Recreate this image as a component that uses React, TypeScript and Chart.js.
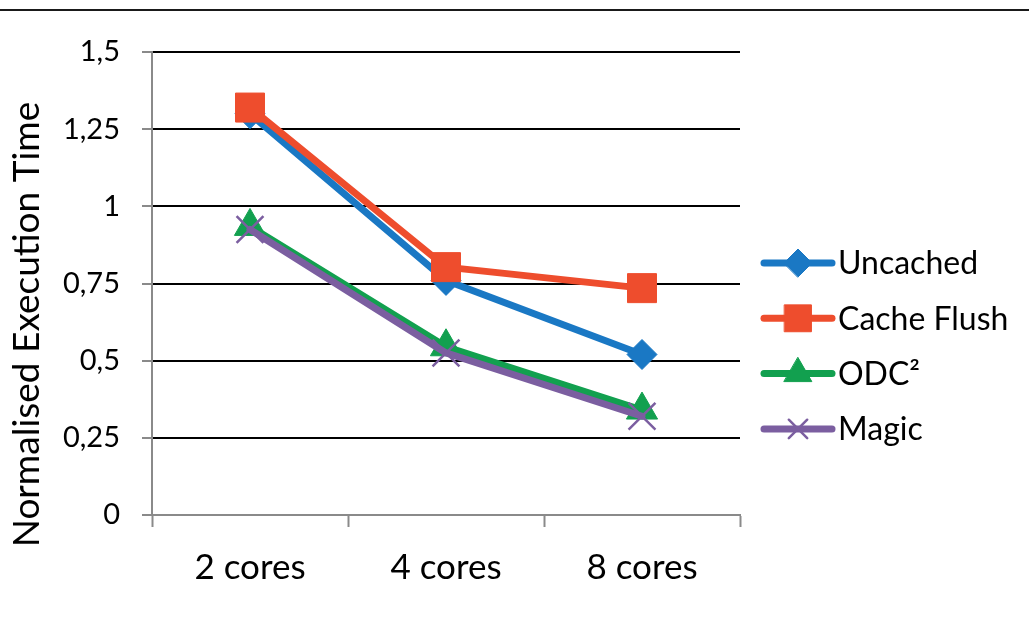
import React, { useEffect, useRef } from 'react';
import { Chart, registerables } from 'chart.js';
import { drawPoint } from 'chart.js/helpers';

Chart.register(...registerables);

const categories = ['2 cores', '4 cores', '8 cores'];
const uncached = [1.3, 0.76, 0.52];
const cacheFlush = [1.32, 0.803, 0.735];
const odc2 = [0.935, 0.545, 0.34];
const magic = [0.925, 0.525, 0.32];
const seriesNames = ['Uncached', 'Cache Flush', 'ODC²', 'Magic'];
const yTicks = [0, 0.25, 0.5, 0.75, 1, 1.25, 1.5];
const yTitle = 'Normalised Execution Time';

const AXIS = '#8a8a8a';
const SANS = "Lato, 'Open Sans', 'Noto Sans', sans-serif";

const styles = [
  { color: '#1a78c4', pointStyle: 'rectRot', radius: 15, legendRadius: 14, borderWidth: 1 },
  { color: '#ee4d2d', pointStyle: 'rect', radius: 20.5, legendRadius: 19, borderWidth: 1 },
  { color: '#12a04f', pointStyle: 'triangle', radius: 18, legendRadius: 16, borderWidth: 1 },
  { color: '#7b5ea0', pointStyle: 'crossRot', radius: 19, legendRadius: 13, borderWidth: 2.5 },
];

const seriesValues = [uncached, cacheFlush, odc2, magic];

const decorPlugin = {
  id: 'decor',
  afterDraw(chart: any) {
    const ctx = chart.ctx as CanvasRenderingContext2D;
    const area = chart.chartArea;
    ctx.save();
    // top frame rule
    ctx.fillStyle = '#1a1a1a';
    ctx.fillRect(0, 9, chart.width, 2);

    // y axis title
    const yScale = chart.scales.y;
    ctx.fillStyle = '#000';
    ctx.font = `37px ${SANS}`;
    ctx.textAlign = 'center';
    ctx.textBaseline = 'middle';
    ctx.translate(27, (yScale.top + yScale.bottom) / 2 + 41);
    ctx.rotate(-Math.PI / 2);
    ctx.fillText(yTitle, 0, 0);
    ctx.restore();

    // legend
    ctx.save();
    const x1 = area.right + 24;
    const x2 = area.right + 92;
    const mx = (x1 + x2) / 2;
    const tx = area.right + 98;
    const y0 = 263;
    const dy = 55.3;
    seriesNames.forEach((name, i) => {
      const st = styles[i];
      const y = y0 + i * dy;
      ctx.strokeStyle = st.color;
      ctx.fillStyle = st.color;
      ctx.lineWidth = 7;
      ctx.lineCap = 'round';
      ctx.beginPath();
      ctx.moveTo(x1, y);
      ctx.lineTo(x2, y);
      ctx.stroke();
      ctx.lineWidth = st.borderWidth;
      drawPoint(ctx, { pointStyle: st.pointStyle as any, radius: st.legendRadius, rotation: 0, borderWidth: st.borderWidth }, mx, y);
      ctx.fillStyle = '#000';
      ctx.font = `32px ${SANS}`;
      ctx.textAlign = 'left';
      ctx.textBaseline = 'middle';
      ctx.fillText(name, tx, y + 1);
    });
    ctx.restore();
  },
};

export default function App() {
  const canvasRef = useRef<HTMLCanvasElement | null>(null);

  useEffect(() => {
    document.body.style.margin = '0';
    const canvas = canvasRef.current;
    if (!canvas) return;
    const chart = new Chart(canvas, {
      type: 'line',
      data: {
        labels: categories,
        datasets: seriesNames.map((name, i) => ({
          label: name,
          data: seriesValues[i],
          borderColor: styles[i].color,
          backgroundColor: styles[i].color,
          borderWidth: 7,
          borderJoinStyle: 'round' as const,
          borderCapStyle: 'round' as const,
          pointStyle: styles[i].pointStyle as any,
          pointRadius: styles[i].radius,
          pointHoverRadius: styles[i].radius,
          pointBackgroundColor: styles[i].color,
          pointBorderColor: styles[i].color,
          pointBorderWidth: styles[i].borderWidth,
          fill: false,
          tension: 0,
          order: seriesNames.length - 1 - i,
          clip: false as any,
        })),
      },
      options: {
        animation: false,
        responsive: true,
        maintainAspectRatio: false,
        events: [],
        layout: { padding: { top: 52, right: 289, left: 0, bottom: 0 } },
        plugins: {
          legend: { display: false },
          tooltip: { enabled: false },
          title: { display: false },
        },
        scales: {
          x: {
            type: 'category',
            offset: true,
            grid: {
              offset: true,
              drawOnChartArea: false,
              drawTicks: true,
              tickLength: 12,
              tickColor: AXIS,
              tickWidth: 2,
            },
            border: { color: AXIS, width: 2 },
            ticks: {
              color: '#000',
              font: { family: SANS, size: 35 },
              padding: 20,
              maxRotation: 0,
              autoSkip: false,
            },
            afterFit: (s: any) => {
              s.height = 109;
            },
          },
          y: {
            min: 0,
            max: 1.5,
            afterBuildTicks: (s: any) => {
              s.ticks = yTicks.map((v) => ({ value: v }));
            },
            grid: {
              color: (c: any) => (c.tick && c.tick.value === 0 ? 'rgba(0,0,0,0)' : '#000'),
              lineWidth: 2,
              tickLength: 10,
              tickColor: AXIS,
              tickWidth: 2,
            },
            border: { color: AXIS, width: 2 },
            ticks: {
              color: '#000',
              font: { family: SANS, size: 29 },
              padding: 22,
              callback: (v: any) => String(v).replace('.', ','),
            },
            afterFit: (s: any) => {
              s.width = 152;
            },
          },
        },
      },
      plugins: [decorPlugin],
    });
    return () => chart.destroy();
  }, []);

  return (
    <div style={{ position: 'relative', width: 1029, height: 624 }}>
      <canvas ref={canvasRef} />
    </div>
  );
}
